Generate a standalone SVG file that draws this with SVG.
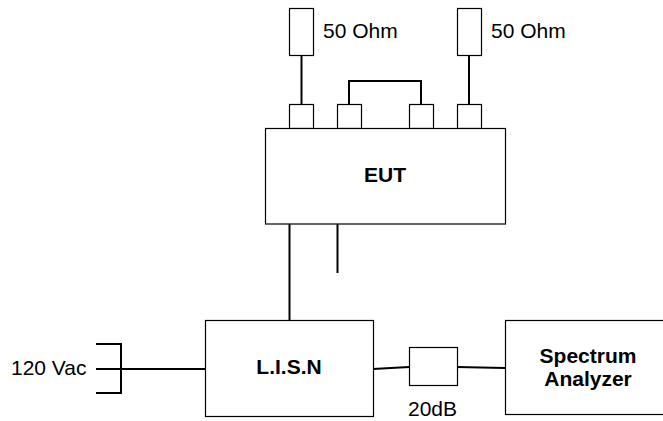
<svg xmlns="http://www.w3.org/2000/svg" width="663" height="421" viewBox="0 0 663 421">
<style>
.box{fill:#fff;stroke:#000;stroke-width:1.2}
.wire{fill:none;stroke:#000;stroke-width:2}
.lbl{font-family:"Liberation Sans",Arial,sans-serif;font-size:21px;fill:#000}
.bold{font-weight:bold}
</style>
<rect width="663" height="421" fill="#fff"/>
<g id="connectors">
<line class="wire" x1="301.5" y1="56" x2="301.5" y2="104"/>
<line class="wire" x1="469" y1="56" x2="469" y2="104"/>
<polyline class="wire" points="349,104 349,81 421,81 421,104"/>
<line class="wire" x1="289.5" y1="224" x2="289.5" y2="320"/>
<line class="wire" x1="337.5" y1="224" x2="337.5" y2="273"/>
<polyline class="wire" points="96,344 121,344 121,393 96,393"/>
<line class="wire" x1="96" y1="369" x2="205" y2="369"/>
<line class="wire" x1="373" y1="369" x2="409" y2="367"/>
<line class="wire" x1="457" y1="367" x2="505" y2="368"/>
</g>
<g id="r1"><rect class="box" x="289.5" y="8.5" width="24" height="47"/><text class="lbl" x="323" y="38">50 Ohm</text></g>
<g id="r2"><rect class="box" x="457.5" y="8.5" width="24" height="47"/><text class="lbl" x="491" y="38">50 Ohm</text></g>
<g id="port1"><rect class="box" x="289.5" y="104.5" width="24" height="24"/></g>
<g id="port2"><rect class="box" x="337.5" y="104.5" width="24" height="24"/></g>
<g id="port3"><rect class="box" x="409.5" y="104.5" width="24" height="24"/></g>
<g id="port4"><rect class="box" x="457.5" y="104.5" width="24" height="24"/></g>
<g id="eut"><rect class="box" x="265.5" y="128.5" width="240" height="95.5"/><text class="lbl bold" x="385" y="182" text-anchor="middle">EUT</text></g>
<g id="ac"><text class="lbl" x="11" y="375">120 Vac</text></g>
<g id="lisn"><rect class="box" x="205.5" y="320.5" width="168" height="96"/><text class="lbl bold" x="289" y="374" text-anchor="middle">L.I.S.N</text></g>
<g id="att"><rect class="box" x="409.5" y="347.5" width="48" height="38"/><text class="lbl" x="408" y="415.5">20dB</text></g>
<g id="sa"><rect class="box" x="505.5" y="320.5" width="170" height="94"/><text class="lbl bold" x="588" y="363" text-anchor="middle">Spectrum</text><text class="lbl bold" x="588" y="386" text-anchor="middle">Analyzer</text></g>
</svg>
